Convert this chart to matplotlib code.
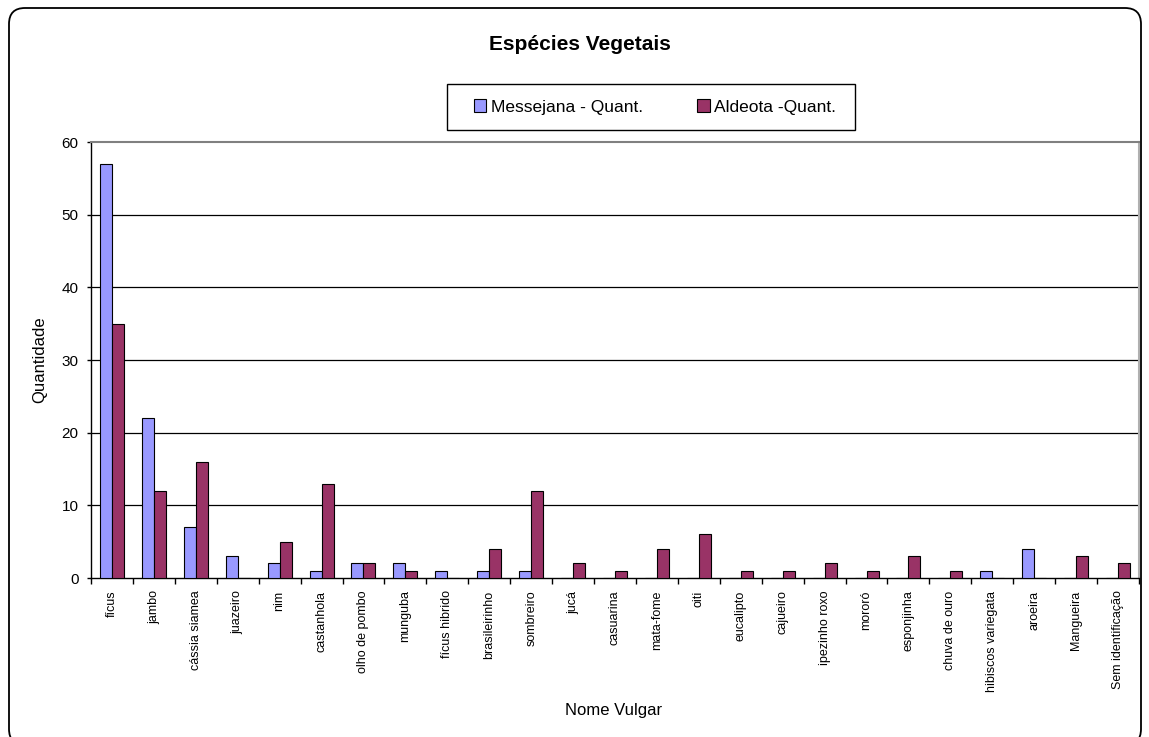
import matplotlib
matplotlib.use("Agg")
import matplotlib.pyplot as plt
import numpy as np
from matplotlib.patches import FancyBboxPatch, Rectangle

plt.rcParams['font.family'] = ['Liberation Sans', 'DejaVu Sans']

species = ["fícus", "jambo", "cássia siamea", "juazeiro", "nim", "castanhola",
           "olho de pombo", "munguba", "fícus hibrido", "brasileirinho", "sombreiro",
           "jucá", "casuarina", "mata-fome", "oiti", "eucalipto", "cajueiro",
           "ipezinho roxo", "mororó", "esponjinha", "chuva de ouro",
           "hibiscos variegata", "aroeira", "Mangueira", "Sem identificação"]
messejana = [57, 22, 7, 3, 2, 1, 2, 2, 1, 1, 1, 0, 0, 0, 0, 0, 0, 0, 0, 0, 0, 1, 4, 0, 0]
aldeota = [35, 12, 16, 0, 5, 13, 2, 1, 0, 4, 12, 2, 1, 4, 6, 1, 1, 2, 1, 3, 1, 0, 0, 3, 2]
y_ticks = [0, 10, 20, 30, 40, 50, 60]

W, H = 1149, 737
fig = plt.figure(figsize=(W / 100, H / 100), dpi=100)

# rounded outer frame
frame = FancyBboxPatch((9 / 100, (H - 745) / 100), (1141 - 9) / 100, (745 - 8) / 100,
                       boxstyle="round,pad=0,rounding_size=0.16",
                       transform=fig.dpi_scale_trans, facecolor="none",
                       edgecolor="black", linewidth=1.3, zorder=5)
fig.patches.append(frame)

ax = fig.add_axes([91 / W, 1 - 578 / H, (1139 - 91) / W, (578 - 142) / H])
ax.set_facecolor("none")

x = np.arange(len(species))
bw = 0.286
ax.bar(x - bw / 2, messejana, bw, color="#9999FF", edgecolor="black", linewidth=0.8,
       label="Messejana - Quant.", zorder=3)
ax.bar(x + bw / 2, aldeota, bw, color="#993366", edgecolor="black", linewidth=0.8,
       label="Aldeota -Quant.", zorder=3)

ax.set_xlim(-0.5, len(species) - 0.5)
ax.set_ylim(0, 60)
ax.set_yticks(y_ticks)
ax.tick_params(axis="y", labelsize=11, length=3, pad=6, direction="out", width=1)
for v in y_ticks[1:-1]:
    ax.axhline(v, color="black", linewidth=0.9, zorder=1)

ax.set_xticks(x)
ax.set_xticklabels(species, rotation=90, fontsize=9)
ax.tick_params(axis="x", length=0, pad=9)
ax.set_xticks(np.arange(-0.5, len(species), 1), minor=True)
ax.tick_params(axis="x", which="minor", length=4, width=1, direction="out")

for s in ["left", "bottom"]:
    ax.spines[s].set_color("black")
    ax.spines[s].set_linewidth(1)
ax.spines["top"].set_color("#808080")
ax.spines["top"].set_linewidth(1.5)
ax.spines["right"].set_color("#b0b0b0")
ax.spines["right"].set_linewidth(1.5)

fig.text(40 / W, 1 - 360 / H, "Quantidade", ha="center", va="center", fontsize=12,
         rotation=90)
fig.text(614 / W, 1 - 711 / H, "Nome Vulgar", ha="center", va="center", fontsize=12)
fig.text(580 / W, 1 - 45 / H, "Espécies Vegetais", ha="center", va="center",
         fontsize=15, fontweight="bold")

# legend box
fig.patches.append(Rectangle((447 / W, 1 - 130 / H), (855 - 447) / W, 46 / H,
                             transform=fig.transFigure, facecolor="white",
                             edgecolor="black", linewidth=1.0, zorder=4))
leg = fig.legend(loc="center", ncol=2, bbox_to_anchor=(655 / W, 1 - 107 / H),
                 fontsize=12.5, frameon=False,
                 handlelength=0.7, handleheight=0.7, handletextpad=0.25,
                 columnspacing=3.15, borderpad=0, borderaxespad=0)
leg.set_zorder(6)

fig.savefig("out.png", dpi=100, facecolor="white")
